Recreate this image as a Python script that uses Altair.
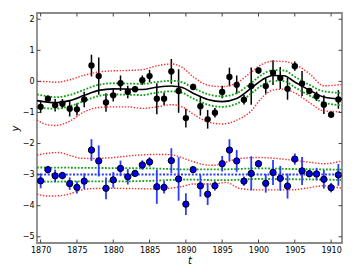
import altair as alt
import pandas as pd

years = list(range(1870, 1912))

top_vals = [-0.82, -0.56, -0.77, -0.72, -0.88, -0.90, -0.58, 0.51, 0.17, -0.68,
            -0.45, -0.06, -0.34, -0.25, 0.04, 0.17, -0.56, -0.56, 0.32, -0.31,
            -1.18, -0.18, -0.80, -1.22, -1.01, -0.34, 0.14, -0.11, -0.59, -0.15,
            0.35, -0.15, 0.28, 0.11, -0.24, 0.49, -0.07, -0.31, -0.48, -0.75,
            -1.07, -0.58]
top_errs = [0.2, 0.1, 0.2, 0.15, 0.25, 0.2, 0.25, 0.35, 0.6, 0.3,
            0.2, 0.25, 0.2, 0.1, 0.15, 0.2, 0.5, 0.2, 0.4, 0.7,
            0.3, 0.1, 0.3, 0.3, 0.15, 0.2, 0.3, 0.3, 0.15, 0.6,
            0.1, 0.25, 0.4, 0.35, 0.35, 0.15, 0.4, 0.1, 0.15, 0.3,
            0.1, 0.3]

bot_vals = [-3.20, -2.84, -3.04, -3.03, -3.29, -3.41, -3.21, -2.21, -2.56, -3.44,
            -3.17, -2.80, -3.07, -2.96, -2.69, -2.59, -3.39, -3.41, -2.55, -3.14,
            -3.95, -2.84, -3.36, -3.63, -3.36, -2.65, -2.21, -2.56, -3.21, -2.96,
            -2.65, -3.28, -2.93, -3.12, -3.37, -2.50, -2.88, -2.97, -2.98, -3.15,
            -3.42, -3.01]
bot_errs = [0.24, 0.12, 0.2, 0.12, 0.2, 0.2, 0.25, 0.35, 0.5, 0.35,
            0.25, 0.25, 0.25, 0.1, 0.15, 0.15, 0.55, 0.2, 0.4, 0.7,
            0.35, 0.1, 0.35, 0.35, 0.15, 0.25, 0.35, 0.35, 0.15, 0.55,
            0.12, 0.3, 0.4, 0.4, 0.4, 0.18, 0.45, 0.12, 0.2, 0.3,
            0.15, 0.35]

# fitted curves for the upper series
fit_t = [1869.5, 1871, 1872, 1874, 1876, 1878, 1880, 1882, 1884, 1886, 1888, 1889.5,
         1891, 1893, 1895, 1897, 1899, 1900.5, 1902, 1903.5, 1905, 1907, 1909, 1911.5]
fit_mean = [-0.62, -0.67, -0.69, -0.62, -0.45, -0.29, -0.24, -0.25, -0.26, -0.19, -0.15, -0.2,
            -0.38, -0.58, -0.65, -0.55, -0.22, 0.05, 0.19, 0.18, -0.02, -0.28, -0.5, -0.57]
fit_g_up = [-0.42, -0.48, -0.51, -0.44, -0.27, -0.11, -0.06, -0.07, -0.08, -0.02, 0.02, -0.03,
            -0.21, -0.41, -0.48, -0.38, -0.05, 0.22, 0.36, 0.35, 0.15, -0.11, -0.32, -0.37]
fit_g_lo = [-0.84, -0.87, -0.88, -0.80, -0.63, -0.47, -0.42, -0.43, -0.44, -0.36, -0.32, -0.37,
            -0.55, -0.75, -0.82, -0.72, -0.39, -0.12, 0.02, 0.01, -0.19, -0.45, -0.68, -0.77]
fit_r_up = [0.0, -0.01, -0.03, 0.05, 0.2, 0.3, 0.34, 0.35, 0.38, 0.5, 0.56, 0.45,
            0.15, -0.12, -0.17, -0.05, 0.3, 0.55, 0.65, 0.64, 0.55, 0.25, -0.14, -0.1]
fit_r_lo = [-1.25, -1.40, -1.42, -1.28, -0.98, -0.84, -0.82, -0.82, -0.87, -0.82, -0.75, -0.82,
            -1.05, -1.3, -1.37, -1.25, -0.95, -0.52, -0.28, -0.25, -0.37, -0.68, -0.95, -0.98]

# curves for the lower series
const_t = [1869.5, 1911.5]
const_mean = [-3.0, -3.0]
cg_t = [1869.5, 1875, 1880, 1885, 1890, 1895, 1900, 1905, 1911.5]
cg_up = [-2.77, -2.78, -2.79, -2.80, -2.83, -2.83, -2.80, -2.82, -2.84]
cg_lo = [-3.23, -3.22, -3.22, -3.2, -3.16, -3.18, -3.14, -3.15, -3.17]
cr_t = [1869.5, 1871, 1872.5, 1874, 1875.5, 1877, 1880, 1883, 1886, 1888, 1889.5,
        1891, 1892.5, 1894, 1895.5, 1897.5, 1900, 1902, 1904.5, 1907, 1909, 1911.5]
cr_up = [-2.37, -2.31, -2.29, -2.38, -2.47, -2.48, -2.45, -2.38, -2.35, -2.36, -2.46,
         -2.58, -2.68, -2.7, -2.6, -2.48, -2.45, -2.47, -2.53, -2.6, -2.65, -2.56]
cr_lo = [-3.63, -3.69, -3.68, -3.62, -3.5, -3.45, -3.44, -3.45, -3.46, -3.43, -3.38,
         -3.3, -3.3, -3.3, -3.25, -3.45, -3.49, -3.49, -3.49, -3.42, -3.36, -3.44]

x_ticks = [1870, 1875, 1880, 1885, 1890, 1895, 1900, 1905, 1910]
y_ticks = [-5, -4, -3, -2, -1, 0, 1, 2]

W, H = 305, 230
xs = alt.Scale(domain=[1869.5, 1911.5], nice=False, zero=False)
ys = alt.Scale(domain=[-5.2, 2.2], nice=False, zero=False)

RED = "#ff2a2a"
GREEN = "#14a014"
BLUE = "#2a3cff"

x_axis = alt.Axis(values=x_ticks, format="d", title="t", tickSize=0,
                  domain=False, grid=False, labelPadding=3,
                  titleFontStyle="italic", titleFontWeight="normal",
                  titleFontSize=10, titlePadding=1, labelFontSize=8)
y_axis = alt.Axis(values=y_ticks, title="y", tickSize=0, domain=False,
                  grid=False, labelPadding=3, titleFontStyle="italic",
                  titleFontWeight="normal", titleFontSize=10,
                  titlePadding=2, labelFontSize=8)


def X(f):
    return alt.X(f, scale=xs, axis=x_axis)


def Y(f):
    return alt.Y(f, scale=ys, axis=y_axis)


def curve(ts, vs, color, width, dash=None):
    df = pd.DataFrame({"t": ts, "v": vs})
    kw = dict(color=color, strokeWidth=width, interpolate="monotone")
    if dash:
        kw["strokeDash"] = dash
    return alt.Chart(df).mark_line(**kw).encode(x=X("t:Q"), y=Y("v:Q"))


top = pd.DataFrame({"t": years, "v": top_vals, "e": top_errs})
top["lo"] = top["v"] - top["e"]
top["hi"] = top["v"] + top["e"]
bot = pd.DataFrame({"t": years, "v": bot_vals, "e": bot_errs})
bot["lo"] = bot["v"] - bot["e"]
bot["hi"] = bot["v"] + bot["e"]

top_bars = alt.Chart(top).mark_rule(color="black", strokeWidth=1.5).encode(
    x=X("t:Q"), y=Y("lo:Q"), y2="hi:Q")
top_pts = alt.Chart(top).mark_circle(color="black", size=40, opacity=1).encode(
    x=X("t:Q"), y=Y("v:Q"))
bot_bars = alt.Chart(bot).mark_rule(color=BLUE, strokeWidth=1.8).encode(
    x=X("t:Q"), y=Y("lo:Q"), y2="hi:Q")
bot_pts = alt.Chart(bot).mark_point(filled=True, fill="#0000ee", stroke="black",
                                    strokeWidth=1, size=40, opacity=1, shape="circle").encode(
    x=X("t:Q"), y=Y("v:Q"))

xt = pd.DataFrame({"t": x_ticks})
yt = pd.DataFrame({"v": y_ticks})
tick_col = "#444444"
ticks = [
    alt.Chart(xt).mark_rule(color=tick_col, strokeWidth=1).encode(
        x=X("t:Q"), y=alt.value(0), y2=alt.value(3.5)),
    alt.Chart(xt).mark_rule(color=tick_col, strokeWidth=1).encode(
        x=X("t:Q"), y=alt.value(H - 3.5), y2=alt.value(H)),
    alt.Chart(yt).mark_rule(color=tick_col, strokeWidth=1).encode(
        y=Y("v:Q"), x=alt.value(0), x2=alt.value(3.5)),
    alt.Chart(yt).mark_rule(color=tick_col, strokeWidth=1).encode(
        y=Y("v:Q"), x=alt.value(W - 3.5), x2=alt.value(W)),
]

layers = [
    top_bars,
    curve(fit_t, fit_r_up, RED, 1.4, [1.4, 1.6]),
    curve(fit_t, fit_r_lo, RED, 1.4, [1.4, 1.6]),
    curve(fit_t, fit_g_up, GREEN, 1.8, [1.8, 1.6]),
    curve(fit_t, fit_g_lo, GREEN, 1.8, [1.8, 1.6]),
    curve(fit_t, fit_mean, "black", 1.6),
    curve(cr_t, cr_up, RED, 1.4, [1.4, 1.6]),
    curve(cr_t, cr_lo, RED, 1.4, [1.4, 1.6]),
    curve(cg_t, cg_up, GREEN, 1.8, [1.8, 1.6]),
    curve(cg_t, cg_lo, GREEN, 1.8, [1.8, 1.6]),
    curve(const_t, const_mean, BLUE, 2, [2, 1.6]),
    top_pts,
    bot_bars,
    bot_pts,
] + ticks

chart = alt.layer(*layers).properties(
    width=W, height=H,
    autosize=alt.AutoSizeParams(type="none"),
    padding={"left": 29, "top": 5, "right": 5, "bottom": 26},
).configure_view(stroke="#8a8a8a", strokeWidth=1.8).configure_axis(
    labelFont="DejaVu Sans", titleFont="DejaVu Sans", labelColor="black",
    titleColor="black")

chart.save("out.html", embed_options={"renderer": "svg", "actions": False})
